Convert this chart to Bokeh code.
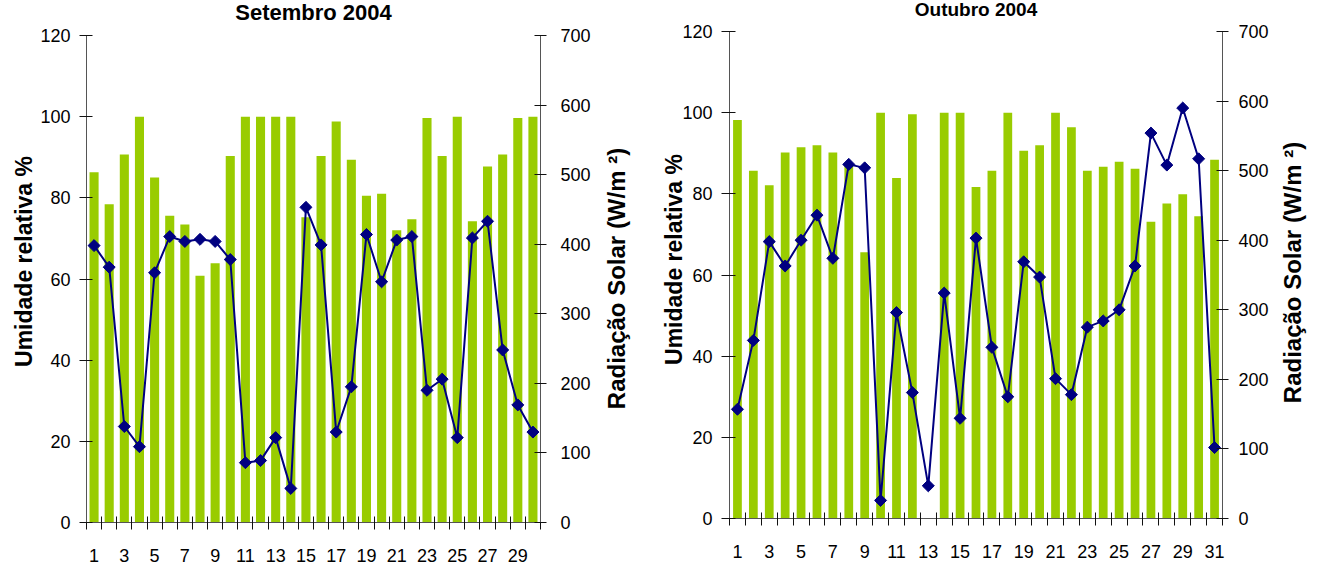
import math
import numpy as np
from bokeh.plotting import figure
from bokeh.models import Range1d, LinearAxis, FixedTicker, Label
from bokeh.layouts import row
from bokeh.embed import file_html
from bokeh.resources import INLINE

# ---------------- data ----------------
sep_days = list(range(1, 31))
sep_humidity = [86.3, 78.4, 90.7, 100, 85.0, 75.6, 73.4, 60.8, 63.9, 90.3,
                100, 100, 100, 100, 75.2, 90.3, 98.8, 89.4, 80.5, 81.0,
                72.0, 74.7, 99.7, 90.3, 100, 74.2, 87.7, 90.7, 99.7, 100]
sep_radiation = [398, 367, 138, 109, 359, 411, 404, 407, 404, 378,
                 86, 89, 122, 49, 453, 399, 130, 195, 414, 346,
                 406, 411, 190, 206, 122, 409, 433, 248, 169, 130]

oct_days = list(range(1, 32))
oct_humidity = [98.2, 85.7, 82.1, 90.2, 91.5, 92.0, 90.2, 87.0, 65.6, 100,
                83.9, 99.6, np.nan, 100, 100, 81.7, 85.7, 100, 90.6, 92.0,
                100, 96.4, 85.7, 86.7, 87.9, 86.2, 73.1, 77.6, 79.9, 74.5, 88.4]
oct_radiation = [157, 256, 398, 363, 400, 436, 374, 509, 504, 26,
                 296, 181, 47, 324, 144, 403, 246, 175, 369, 347,
                 201, 178, 275, 284, 300, 363, 554, 508, 590, 517, 102]

humidity_ticks = [0, 20, 40, 60, 80, 100, 120]
radiation_ticks = [0, 100, 200, 300, 400, 500, 600, 700]

title_sep = "Setembro 2004"
title_oct = "Outubro 2004"
ylabel_left = "Umidade relativa %"
ylabel_right = "Radiação Solar (W/m ²)"

BAR_COLOR = "#99CC00"
LINE_COLOR = "#000080"
FONT = "Liberation Sans"

AXIS_PX = 487        # pixels for 0..120
HUM_MAX = 120.0
RAD_MAX = 700.0


def style_axis(ax):
    ax.axis_line_color = "#555555"
    ax.major_tick_line_color = "#111111"
    ax.minor_tick_line_color = "#111111"
    ax.major_label_text_font = FONT
    ax.major_label_text_font_size = "18px"
    ax.major_label_text_color = "#000000"
    ax.axis_label_text_font = FONT
    ax.axis_label_text_font_size = "23px"
    ax.axis_label_text_font_style = "bold"
    ax.axis_label_text_color = "#000000"


def make_chart(title, title_size, title_px, px_top, days, hum, rad, bar_width,
               frame_width, mbl, mbr, left_tick_out, left_label_standoff,
               right_tick_standoff):
    n = len(days)
    frame_h = px_top + AXIS_PX
    hum_top = HUM_MAX * frame_h / AXIS_PX
    rad_top = RAD_MAX * frame_h / AXIS_PX
    p = figure(frame_width=frame_width, frame_height=frame_h,
               x_range=Range1d(0.5, n + 0.5), y_range=Range1d(0, hum_top),
               output_backend="svg", toolbar_location=None,
               min_border_left=mbl, min_border_right=mbr,
               min_border_top=0, min_border_bottom=44)
    p.extra_y_ranges = {"rad": Range1d(0, rad_top)}
    p.xgrid.visible = False
    p.ygrid.visible = False
    p.outline_line_color = None
    p.background_fill_color = "white"
    p.border_fill_color = "white"

    p.vbar(x=days, top=np.array(hum, dtype=float), width=bar_width,
           fill_color=BAR_COLOR, line_color=None)
    p.line(x=days, y=rad, y_range_name="rad", line_color=LINE_COLOR, line_width=2)
    p.scatter(x=days, y=rad, y_range_name="rad", marker="square", angle=0.785398,
              size=8.5, fill_color=LINE_COLOR, line_color=LINE_COLOR)

    # title, drawn inside the room above the 120 line
    p.add_layout(Label(x=(n + 1) / 2, y=HUM_MAX, y_offset=px_top - title_px,
                       text=title, text_align="center", text_baseline="middle",
                       text_font=FONT, text_font_size=title_size,
                       text_font_style="bold", text_color="#000000"))

    # x axis: labels on odd days, ticks on category boundaries
    xa = p.xaxis[0]
    style_axis(xa)
    xa.ticker = FixedTicker(ticks=[d for d in days if d % 2 == 1],
                            minor_ticks=[d - 0.5 for d in days] + [n + 0.5])
    xa.major_tick_in = 0
    xa.major_tick_out = 0
    xa.minor_tick_in = 6
    xa.minor_tick_out = 7
    xa.major_label_standoff = 19

    ya = p.yaxis[0]
    style_axis(ya)
    ya.ticker = FixedTicker(ticks=humidity_ticks)
    ya.bounds = (0, HUM_MAX)
    ya.minor_tick_line_color = None
    ya.major_tick_in = 6
    ya.major_tick_out = left_tick_out
    ya.major_label_standoff = 9
    ya.axis_label = ylabel_left
    ya.axis_label_standoff = left_label_standoff

    ra = LinearAxis(y_range_name="rad", ticker=FixedTicker(ticks=radiation_ticks),
                    bounds=(0, RAD_MAX))
    style_axis(ra)
    ra.minor_tick_line_color = None
    ra.major_tick_in = 6
    ra.major_tick_out = 6
    ra.major_label_standoff = right_tick_standoff
    p.add_layout(ra, "right")
    return p


def make_side_label(width, frame_h, x_px, y_px):
    s = figure(frame_width=width, frame_height=frame_h,
               x_range=Range1d(0, width), y_range=Range1d(0, frame_h),
               output_backend="svg", toolbar_location=None,
               min_border_left=0, min_border_right=0,
               min_border_top=0, min_border_bottom=44)
    s.axis.visible = False
    s.grid.visible = False
    s.outline_line_color = None
    s.border_fill_color = "white"
    s.add_layout(Label(x=x_px, y=frame_h - y_px, text=ylabel_right,
                       angle=math.pi / 2, text_align="center", text_baseline="middle",
                       text_font=FONT, text_font_size="24px", text_font_style="bold",
                       text_color="#000000"))
    return s


p1 = make_chart(title_sep, "22px", 12, 35, sep_days, sep_humidity, sep_radiation,
                0.6, 454, 86, 58, 7, 0, 14)
s1 = make_side_label(53, 35 + AXIS_PX, 18, 278)
p2 = make_chart(title_oct, "19px", 9, 31, oct_days, oct_humidity, oct_radiation,
                0.55, 493, 78, 50, 8, -8, 10)
s2 = make_side_label(36, 31 + AXIS_PX, 20, 272)

layout = row(p1, s1, p2, s2, spacing=0)
open("out.html", "w").write(file_html(layout, INLINE))
